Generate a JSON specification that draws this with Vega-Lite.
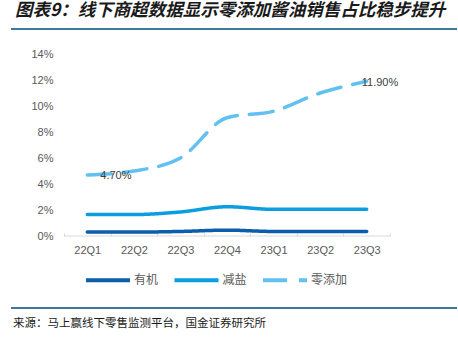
{
  "$schema": "https://vega.github.io/schema/vega-lite/v6.json",
  "autosize": "pad",
  "padding": {"left": 11, "top": 1, "right": 0, "bottom": 0},
  "background": "white",
  "config": {
    "view": {"stroke": null},
    "font": "Liberation Sans"
  },
  "title": {
    "text": "图表9：线下商超数据显示零添加酱油销售占比稳步提升",
    "anchor": "start",
    "font": "Noto Sans CJK SC",
    "fontSize": 17.5,
    "fontWeight": "bold",
    "fontStyle": "italic",
    "color": "#1a1a1a",
    "offset": 9,
    "dx": 4
  },
  "columns": 1,
  "align": "none",
  "spacing": 18,
  "resolve": {"legend": {"color": "independent", "strokeDash": "independent"}},
  "concat": [
    {
      "width": 446,
      "height": 2,
      "view": {"stroke": null, "fill": "#3d7a9a"},
      "data": {"values": [{}]},
      "mark": {"type": "rect", "color": "#3d7a9a", "opacity": 1},
      "encoding": {}
    },
    {
      "width": 379,
      "height": 182,
      "data": {
        "values": [
          {"q": "22Q1", "series": "有机", "value": 0.003},
          {"q": "22Q2", "series": "有机", "value": 0.003},
          {"q": "22Q3", "series": "有机", "value": 0.0035},
          {"q": "22Q4", "series": "有机", "value": 0.0045},
          {"q": "23Q1", "series": "有机", "value": 0.0035},
          {"q": "23Q2", "series": "有机", "value": 0.0035},
          {"q": "23Q3", "series": "有机", "value": 0.0035},
          {"q": "22Q1", "series": "减盐", "value": 0.0165},
          {"q": "22Q2", "series": "减盐", "value": 0.0165},
          {"q": "22Q3", "series": "减盐", "value": 0.0185},
          {"q": "22Q4", "series": "减盐", "value": 0.0225},
          {"q": "23Q1", "series": "减盐", "value": 0.0205},
          {"q": "23Q2", "series": "减盐", "value": 0.0205},
          {"q": "23Q3", "series": "减盐", "value": 0.0205},
          {"q": "22Q1", "series": "零添加", "value": 0.047},
          {"q": "22Q2", "series": "零添加", "value": 0.050},
          {"q": "22Q3", "series": "零添加", "value": 0.060},
          {"q": "22Q4", "series": "零添加", "value": 0.091},
          {"q": "23Q1", "series": "零添加", "value": 0.096},
          {"q": "23Q2", "series": "零添加", "value": 0.110},
          {"q": "23Q3", "series": "零添加", "value": 0.119}
        ]
      },
      "encoding": {
        "x": {
          "field": "q",
          "type": "ordinal",
          "bandPosition": 0.5,
          "scale": {"type": "band", "paddingInner": 0, "paddingOuter": 0.569, "align": 1},
          "axis": {
            "title": null,
            "labelAngle": 0,
            "labelFont": "Liberation Sans",
            "labelFontSize": 11,
            "labelColor": "#595959",
            "domain": false,
            "tickColor": "#d9d9d9",
            "tickBand": "extent",
            "tickSize": -3,
            "labelPadding": 11,
            "grid": false
          }
        },
        "y": {
          "field": "value",
          "type": "quantitative",
          "scale": {"domain": [0, 0.14], "nice": false},
          "axis": {
            "title": null,
            "values": [0, 0.02, 0.04, 0.06, 0.08, 0.1, 0.12, 0.14],
            "format": ".0%",
            "grid": false,
            "domain": false,
            "ticks": false,
            "tickSize": 0,
            "labelPadding": 11,
            "offset": -53,
            "labelFont": "Liberation Sans",
            "labelFontSize": 11,
            "labelColor": "#595959"
          }
        }
      },
      "layer": [
        {
          "transform": [{"filter": "datum.series === '有机'"}],
          "mark": {"type": "tick", "orient": "horizontal", "color": "#d9d9d9", "thickness": 1, "size": 47, "opacity": 1},
          "encoding": {"y": {"datum": 0}}
        },
        {
          "mark": {"type": "line", "strokeWidth": 3.5, "strokeCap": "round", "interpolate": "monotone"},
          "encoding": {
            "color": {
              "field": "series",
              "type": "nominal",
              "scale": {"domain": ["有机", "减盐", "零添加"], "range": ["#0a5eab", "#0a9de0", "#62c1f0"]},
              "legend": {
                "title": null,
                "orient": "none",
                "legendX": 89.5,
                "legendY": 218.5,
                "direction": "horizontal",
                "symbolType": "M-4,0H4",
                "symbolSize": 121,
                "symbolStrokeWidth": 4,
                "labelFont": "Noto Sans CJK SC",
                "labelFontSize": 12,
                "labelColor": "#595959",
                "columnPadding": 7.5,
                "labelOffset": 18.5
              }
            },
            "strokeDash": {
              "field": "series",
              "type": "nominal",
              "scale": {"domain": ["有机", "减盐", "零添加"], "range": [[1, 0], [1, 0], [24, 12]]},
              "legend": {
                "title": null,
                "orient": "none",
                "legendX": 89.5,
                "legendY": 218.5,
                "direction": "horizontal",
                "symbolType": "M-4,0H4",
                "symbolSize": 121,
                "symbolStrokeWidth": 4,
                "labelFont": "Noto Sans CJK SC",
                "labelFontSize": 12,
                "labelColor": "#595959",
                "columnPadding": 7.5,
                "labelOffset": 18.5
              }
            }
          }
        },
        {
          "transform": [{"filter": "datum.series === '零添加' && datum.q === '22Q1'"}],
          "mark": {"type": "text", "align": "left", "baseline": "middle", "dx": 13, "dy": 1, "font": "Liberation Sans", "fontSize": 11, "color": "#404040"},
          "encoding": {"text": {"field": "value", "type": "quantitative", "format": ".2%"}}
        },
        {
          "transform": [{"filter": "datum.series === '零添加' && datum.q === '23Q3'"}],
          "mark": {"type": "text", "align": "left", "baseline": "middle", "dx": -5, "dy": 2, "font": "Liberation Sans", "fontSize": 11, "color": "#404040"},
          "encoding": {"text": {"field": "value", "type": "quantitative", "format": ".2%"}}
        }
      ]
    },
    {
      "title": {
        "text": "来源：马上赢线下零售监测平台，国金证券研究所",
        "orient": "bottom",
        "anchor": "start",
        "font": "Noto Sans CJK SC",
        "fontSize": 11.5,
        "fontWeight": "normal",
        "color": "#1a1a1a",
        "offset": 9,
        "dx": 2
      },
      "width": 446,
      "height": 2,
      "view": {"stroke": null, "fill": "#3d7a9a"},
      "data": {"values": [{}]},
      "mark": {"type": "rect", "color": "#3d7a9a", "opacity": 1},
      "encoding": {}
    }
  ]
}
